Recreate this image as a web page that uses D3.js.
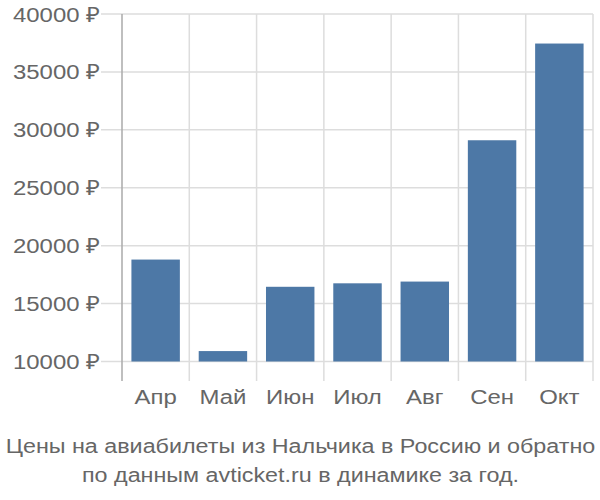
<!DOCTYPE html>
<html><head><meta charset="utf-8">
<script src="https://cdn.jsdelivr.net/npm/d3@7"></script>
<style>body{margin:0;background:#fff}svg{display:block;font-family:"Liberation Sans",Arial,sans-serif}</style>
</head><body>
<svg id="c" width="600" height="500"></svg>
<script>
const categories = ["Апр","Май","Июн","Июл","Авг","Сен","Окт"];
const prices = [18800, 10900, 16450, 16750, 16900, 29100, 37450];
const yTicks = [10000, 15000, 20000, 25000, 30000, 35000, 40000];
const titleLines = ["Цены на авиабилеты из Нальчика в Россию и обратно","по данным avticket.ru в динамике за год."];

(function(){
const svg = d3.select("#c");
const mLeft = 122, mRight = 593, mTop = 14, mBottom = 361.5;
const x = d3.scaleBand().domain(categories).range([mLeft, mRight]).paddingInner(0).paddingOuter(0);
const y = d3.scaleLinear().domain([10000, 40000]).range([mBottom, mTop]);
const barPad = 0.14;
const sx = 1.14, fs = 21;

svg.append("g").selectAll("line").data(yTicks).join("line")
  .attr("x1", 101).attr("x2", mRight)
  .attr("y1", d => y(d)).attr("y2", d => y(d))
  .attr("stroke", "#dddddd").attr("stroke-width", 1.5);
const bounds = categories.map(c => x(c)).concat([mRight]);
svg.append("g").selectAll("line").data(bounds.slice(1)).join("line")
  .attr("x1", d => d).attr("x2", d => d)
  .attr("y1", mTop).attr("y2", 381)
  .attr("stroke", "#dddddd").attr("stroke-width", 1.5);
svg.append("line").attr("x1", mLeft).attr("x2", mLeft).attr("y1", mTop).attr("y2", 381)
  .attr("stroke", "#aaaaaa").attr("stroke-width", 1.5);

svg.append("g").selectAll("rect").data(prices).join("rect")
  .attr("x", (d,i) => x(categories[i]) + x.bandwidth()*barPad)
  .attr("width", x.bandwidth()*(1-2*barPad))
  .attr("y", d => y(d))
  .attr("height", d => y(10000) - y(d))
  .attr("fill", "#4d78a6");

svg.append("g").selectAll("text").data(yTicks).join("text")
  .attr("transform", d => `translate(100,${y(d) + 7.5}) scale(${sx},1)`)
  .attr("text-anchor", "end").attr("font-size", fs).attr("fill", "#666")
  .text(d => d + " ₽");

svg.append("g").selectAll("text").data(categories).join("text")
  .attr("transform", d => `translate(${x(d) + x.bandwidth()/2},404) scale(${sx},1)`)
  .attr("text-anchor", "middle").attr("font-size", fs).attr("fill", "#666")
  .text(d => d);

svg.append("g").selectAll("text").data(titleLines).join("text")
  .attr("transform", (d,i) => `translate(300.5,${453 + i*28.5}) scale(1.11,1)`)
  .attr("text-anchor", "middle").attr("font-size", fs).attr("fill", "#666")
  .text(d => d);
})();
</script>
</body></html>
